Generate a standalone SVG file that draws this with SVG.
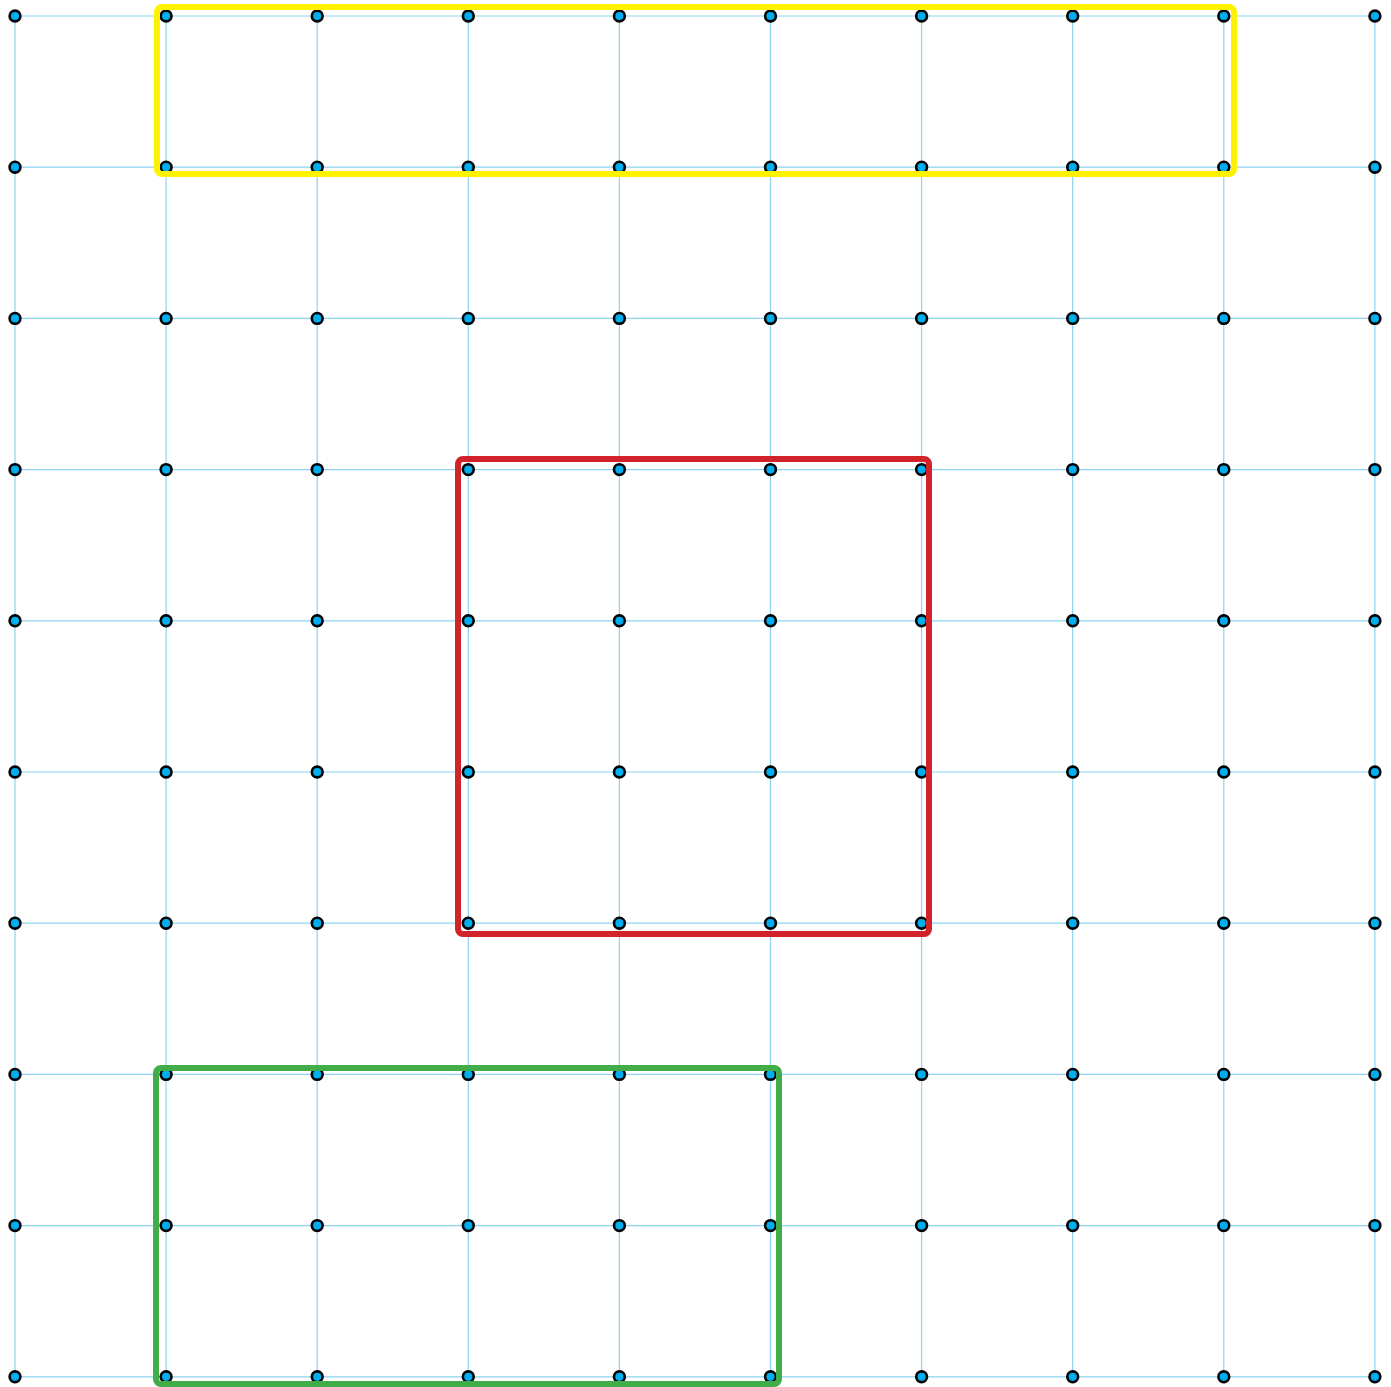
<svg xmlns="http://www.w3.org/2000/svg" xmlns:xlink="http://www.w3.org/1999/xlink" width="1391" height="1387" viewBox="0 0 1391 1387">
<style>
.g{stroke:#8ED3F2;stroke-width:1.2;fill:none}
.d{fill:#00AEEF;stroke:#000;stroke-width:2.6}
.b{fill:none;stroke-width:6;stroke-linejoin:round}
</style>
<defs><circle id="dot" r="5.4" class="d"/></defs>
<rect width="1391" height="1387" fill="#fff"/>
<g id="connectors">
<path class="g" d="M15,16H1375M15,167.2H1375M15,318.4H1375M15,469.6H1375M15,620.8H1375M15,772H1375M15,923.2H1375M15,1074.4H1375M15,1225.6H1375M15,1376.8H1375"/>
<path class="g" d="M15,16V1376.8M166.1,16V1376.8M317.2,16V1376.8M468.3,16V1376.8M619.4,16V1376.8M770.5,16V1376.8M921.6,16V1376.8M1072.7,16V1376.8M1223.8,16V1376.8M1374.9,16V1376.8"/>
</g>
<g id="dots">
<g id="r0">
<use href="#dot" x="15" y="16"/><use href="#dot" x="166.1" y="16"/><use href="#dot" x="317.2" y="16"/><use href="#dot" x="468.3" y="16"/><use href="#dot" x="619.4" y="16"/><use href="#dot" x="770.5" y="16"/><use href="#dot" x="921.6" y="16"/><use href="#dot" x="1072.7" y="16"/><use href="#dot" x="1223.8" y="16"/><use href="#dot" x="1374.9" y="16"/>
</g>
<g id="r1">
<use href="#dot" x="15" y="167.2"/><use href="#dot" x="166.1" y="167.2"/><use href="#dot" x="317.2" y="167.2"/><use href="#dot" x="468.3" y="167.2"/><use href="#dot" x="619.4" y="167.2"/><use href="#dot" x="770.5" y="167.2"/><use href="#dot" x="921.6" y="167.2"/><use href="#dot" x="1072.7" y="167.2"/><use href="#dot" x="1223.8" y="167.2"/><use href="#dot" x="1374.9" y="167.2"/>
</g>
<g id="r2">
<use href="#dot" x="15" y="318.4"/><use href="#dot" x="166.1" y="318.4"/><use href="#dot" x="317.2" y="318.4"/><use href="#dot" x="468.3" y="318.4"/><use href="#dot" x="619.4" y="318.4"/><use href="#dot" x="770.5" y="318.4"/><use href="#dot" x="921.6" y="318.4"/><use href="#dot" x="1072.7" y="318.4"/><use href="#dot" x="1223.8" y="318.4"/><use href="#dot" x="1374.9" y="318.4"/>
</g>
<g id="r3">
<use href="#dot" x="15" y="469.6"/><use href="#dot" x="166.1" y="469.6"/><use href="#dot" x="317.2" y="469.6"/><use href="#dot" x="468.3" y="469.6"/><use href="#dot" x="619.4" y="469.6"/><use href="#dot" x="770.5" y="469.6"/><use href="#dot" x="921.6" y="469.6"/><use href="#dot" x="1072.7" y="469.6"/><use href="#dot" x="1223.8" y="469.6"/><use href="#dot" x="1374.9" y="469.6"/>
</g>
<g id="r4">
<use href="#dot" x="15" y="620.8"/><use href="#dot" x="166.1" y="620.8"/><use href="#dot" x="317.2" y="620.8"/><use href="#dot" x="468.3" y="620.8"/><use href="#dot" x="619.4" y="620.8"/><use href="#dot" x="770.5" y="620.8"/><use href="#dot" x="921.6" y="620.8"/><use href="#dot" x="1072.7" y="620.8"/><use href="#dot" x="1223.8" y="620.8"/><use href="#dot" x="1374.9" y="620.8"/>
</g>
<g id="r5">
<use href="#dot" x="15" y="772"/><use href="#dot" x="166.1" y="772"/><use href="#dot" x="317.2" y="772"/><use href="#dot" x="468.3" y="772"/><use href="#dot" x="619.4" y="772"/><use href="#dot" x="770.5" y="772"/><use href="#dot" x="921.6" y="772"/><use href="#dot" x="1072.7" y="772"/><use href="#dot" x="1223.8" y="772"/><use href="#dot" x="1374.9" y="772"/>
</g>
<g id="r6">
<use href="#dot" x="15" y="923.2"/><use href="#dot" x="166.1" y="923.2"/><use href="#dot" x="317.2" y="923.2"/><use href="#dot" x="468.3" y="923.2"/><use href="#dot" x="619.4" y="923.2"/><use href="#dot" x="770.5" y="923.2"/><use href="#dot" x="921.6" y="923.2"/><use href="#dot" x="1072.7" y="923.2"/><use href="#dot" x="1223.8" y="923.2"/><use href="#dot" x="1374.9" y="923.2"/>
</g>
<g id="r7">
<use href="#dot" x="15" y="1074.4"/><use href="#dot" x="166.1" y="1074.4"/><use href="#dot" x="317.2" y="1074.4"/><use href="#dot" x="468.3" y="1074.4"/><use href="#dot" x="619.4" y="1074.4"/><use href="#dot" x="770.5" y="1074.4"/><use href="#dot" x="921.6" y="1074.4"/><use href="#dot" x="1072.7" y="1074.4"/><use href="#dot" x="1223.8" y="1074.4"/><use href="#dot" x="1374.9" y="1074.4"/>
</g>
<g id="r8">
<use href="#dot" x="15" y="1225.6"/><use href="#dot" x="166.1" y="1225.6"/><use href="#dot" x="317.2" y="1225.6"/><use href="#dot" x="468.3" y="1225.6"/><use href="#dot" x="619.4" y="1225.6"/><use href="#dot" x="770.5" y="1225.6"/><use href="#dot" x="921.6" y="1225.6"/><use href="#dot" x="1072.7" y="1225.6"/><use href="#dot" x="1223.8" y="1225.6"/><use href="#dot" x="1374.9" y="1225.6"/>
</g>
<g id="r9">
<use href="#dot" x="15" y="1376.8"/><use href="#dot" x="166.1" y="1376.8"/><use href="#dot" x="317.2" y="1376.8"/><use href="#dot" x="468.3" y="1376.8"/><use href="#dot" x="619.4" y="1376.8"/><use href="#dot" x="770.5" y="1376.8"/><use href="#dot" x="921.6" y="1376.8"/><use href="#dot" x="1072.7" y="1376.8"/><use href="#dot" x="1223.8" y="1376.8"/><use href="#dot" x="1374.9" y="1376.8"/>
</g>
</g>
<g id="yellow-box"><rect class="b" x="157" y="7" width="1077" height="167" rx="5" stroke="#FFF200"/></g>
<g id="red-box"><rect class="b" x="458" y="459" width="471" height="475" rx="5" stroke="#D2232A"/></g>
<g id="green-box"><rect class="b" x="156" y="1068" width="623" height="316" rx="5" stroke="#41AD49"/></g>
</svg>
